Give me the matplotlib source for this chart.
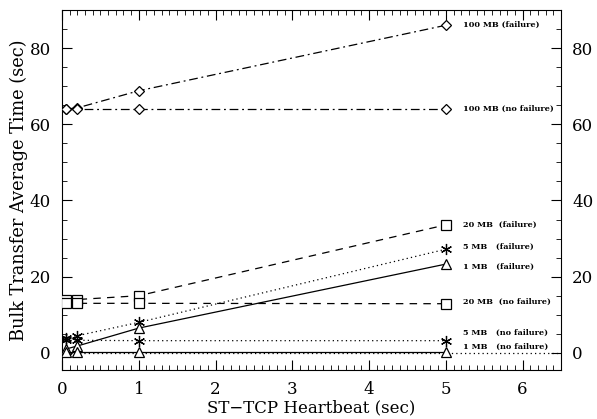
import matplotlib
matplotlib.use("Agg")
import matplotlib.pyplot as plt
import matplotlib.ticker as mticker

FONT = "DejaVu Serif"

heartbeat = [0.05, 0.2, 1.0, 5.0]

mb100_fail = [64.0, 64.3, 68.8, 86.0]
mb100_nofail = [64.0, 64.0, 64.0, 64.0]
mb20_fail = [14.0, 14.0, 15.0, 33.6]
mb20_nofail = [13.0, 13.0, 13.0, 12.9]
mb5_fail = [3.8, 4.5, 8.0, 27.2]
mb5_nofail = [3.3, 3.3, 3.2, 3.2]
mb1_fail = [1.0, 1.8, 6.5, 23.3]
mb1_nofail = [0.3, 0.3, 0.3, 0.3]

labels = ["100 MB (failure)", "100 MB (no failure)",
          "20 MB  (failure)", "5 MB   (failure)", "1 MB   (failure)",
          "20 MB  (no failure)", "5 MB   (no failure)", "1 MB   (no failure)"]
label_y = [86.0, 64.0, 33.6, 27.8, 22.7, 13.4, 5.3, 1.6]

fig = plt.figure(figsize=(5.97, 4.19), dpi=100)
ax = fig.add_axes([62 / 597, 49 / 419, 499 / 597, 360 / 419])

ax.axhline(0, color="black", lw=0.9, ls=(0, (1, 2.5)), zorder=1)

dashdot = (0, (7, 3, 1.5, 3))
dashed = (0, (6, 5))
dotted = (0, (1, 2.5))
series = [
    (mb100_fail, dashdot, "D", 5.5),
    (mb100_nofail, dashdot, "D", 5.5),
    (mb20_fail, dashed, "s", 7),
    (mb20_nofail, dashed, "s", 7),
    (mb5_fail, dotted, (6, 2, 0), 8),
    (mb5_nofail, dotted, (6, 2, 0), 8),
    (mb1_fail, "-", "^", 7),
    (mb1_nofail, "-", "^", 7),
]
for vals, ls, mk, ms in series:
    ax.plot(heartbeat, vals, color="black", lw=0.9, ls=ls, marker=mk,
            markersize=ms, markerfacecolor="white",
            markeredgecolor="black", markeredgewidth=0.9, zorder=3)

for txt, y in zip(labels, label_y):
    ax.text(5.22, y, txt, fontsize=5.9, fontweight="bold", family=FONT,
            ha="left", va="center")

ax.set_xlim(0, 6.5)
ax.set_ylim(-4.5, 90)
ax.xaxis.set_major_locator(mticker.MultipleLocator(1))
ax.xaxis.set_minor_locator(mticker.MultipleLocator(0.1))
ax.yaxis.set_major_locator(mticker.MultipleLocator(20))
ax.yaxis.set_minor_locator(mticker.MultipleLocator(5))
ax.tick_params(which="both", direction="in", top=True, right=True,
               labelright=True, labelsize=12, pad=8)
ax.tick_params(which="major", length=7, width=0.8)
ax.tick_params(which="minor", length=3.5, width=0.6)
for t in ax.xaxis.get_major_ticks() + ax.yaxis.get_major_ticks():
    t.label1.set_fontfamily(FONT)
    t.label2.set_fontfamily(FONT)

ax.set_xlabel("ST\u2212TCP Heartbeat (sec)", fontsize=12, family=FONT, labelpad=1)
ax.set_ylabel("Bulk Transfer Average Time (sec)", fontsize=12.8, family=FONT, labelpad=1)

fig.savefig("out.png", dpi=100)
